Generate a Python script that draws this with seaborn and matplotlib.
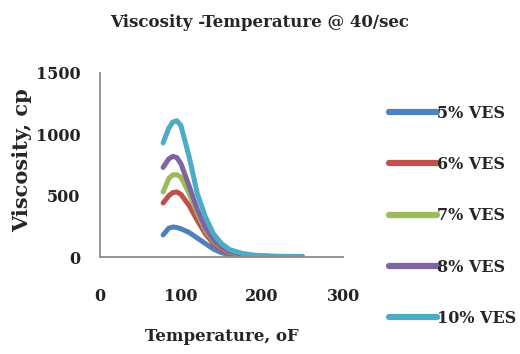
import numpy as np
import pandas as pd
import matplotlib
matplotlib.use("Agg")
import matplotlib.pyplot as plt
import seaborn as sns

# temperatures (oF)
temps = [78, 85, 90, 95, 100, 110, 120, 130, 140, 150, 160, 175, 190, 210, 230, 250]

# viscosity (cp) per VES concentration
visc_5 = [180, 235, 245, 240, 230, 200, 155, 110, 65, 35, 18, 8, 4, 2, 1, 0]
visc_6 = [440, 500, 525, 530, 510, 420, 300, 190, 110, 60, 30, 12, 6, 3, 1, 0]
visc_7 = [530, 640, 670, 670, 650, 520, 360, 220, 130, 75, 40, 18, 8, 4, 2, 0]
visc_8 = [730, 800, 820, 810, 760, 580, 390, 240, 140, 80, 45, 20, 10, 5, 3, 1]
visc_10 = [930, 1050, 1100, 1110, 1070, 820, 520, 330, 190, 110, 60, 30, 15, 8, 5, 2]

series_names = ["5% VES", "6% VES", "7% VES", "8% VES", "10% VES"]
colors = ["#4F81BD", "#C0504D", "#9BBB59", "#8064A2", "#4BACC6"]

x_ticks = [0, 100, 200, 300]
y_ticks = [0, 500, 1000, 1500]

frames = []
for name, vals in zip(series_names, [visc_5, visc_6, visc_7, visc_8, visc_10]):
    frames.append(pd.DataFrame({"temp": temps, "visc": vals, "series": name}))
df = pd.concat(frames, ignore_index=True)

sns.set_style("white")
plt.rcParams['font.family'] = ['DejaVu Serif']

fig = plt.figure(figsize=(5.2, 3.54), dpi=100)
ax = fig.add_axes([0.192, 0.274, 0.468, 0.52])

sns.lineplot(data=df, x="temp", y="visc", hue="series", hue_order=series_names,
             palette=colors, estimator=None, sort=False, linewidth=3.6,
             solid_capstyle="round", ax=ax)

ax.set_xlim(0, 300)
ax.set_ylim(0, 1500)
ax.set_xticks(x_ticks)
ax.set_yticks(y_ticks)
ax.tick_params(length=0, labelsize=11.5, colors="#222222")
ax.tick_params(axis="x", pad=22)
ax.tick_params(axis="y", pad=14)
for lab in ax.get_xticklabels() + ax.get_yticklabels():
    lab.set_fontweight("bold")

for side in ["top", "right"]:
    ax.spines[side].set_visible(False)
for side in ["left", "bottom"]:
    ax.spines[side].set_color("#8c8c8c")
    ax.spines[side].set_linewidth(1.3)

ax.set_xlabel("Temperature, oF", fontsize=12, fontweight="bold", labelpad=17)
ax.set_ylabel("")
fig.text(22 / 520, 1 - 160 / 354, "Viscosity, cp", rotation=90, ha="center", va="center",
         fontsize=15, fontweight="bold")
fig.suptitle("Viscosity -Temperature @ 40/sec", fontsize=12, fontweight="bold", y=0.96)

handles, labels = ax.get_legend_handles_labels()
for h in handles:
    h.set_linewidth(4.5)
    h.set_solid_capstyle("round")
ax.legend(handles, labels, loc="upper left", bbox_to_anchor=(0.72, 0.745),
          bbox_transform=fig.transFigure, frameon=False,
          handlelength=3.0, handletextpad=0.05, labelspacing=2.15,
          prop={"weight": "bold", "size": 11.5})

fig.savefig("out.png", dpi=100)
